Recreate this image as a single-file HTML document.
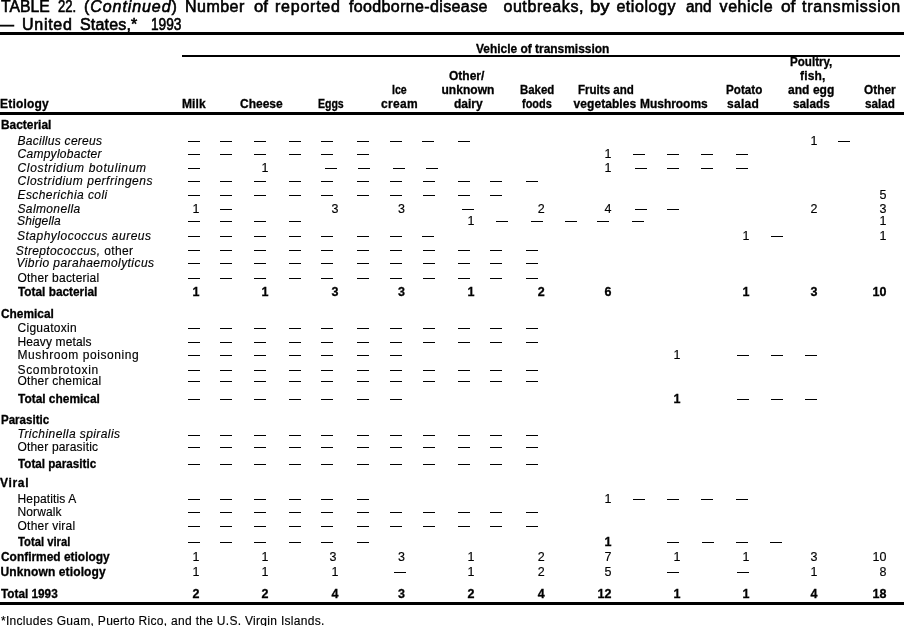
<!DOCTYPE html>
<html><head><meta charset="utf-8"><title>Table 22</title><style>
html,body{margin:0;padding:0;background:#fff;}
#p{will-change:transform;filter:grayscale(1);position:relative;width:904px;height:626px;overflow:hidden;background:#fff;color:#000;font-family:"Liberation Sans",sans-serif;}
#p div{position:absolute;white-space:pre;line-height:16px;transform-origin:0 0;}
#p .d{height:1px;width:12px;background:#000;}
#p .k{background:#000;}
#p .n{width:40px;text-align:right;}
#p .t{font-size:16px;font-weight:normal;font-style:normal;-webkit-text-stroke:0.6px #000;}
#p .ti{font-size:16px;font-weight:normal;font-style:italic;}
#p .h{font-size:12px;font-weight:bold;font-style:normal;-webkit-text-stroke:0.3px #000;}
#p .b{font-size:12px;font-weight:bold;font-style:normal;-webkit-text-stroke:0.3px #000;}
#p .r{font-size:12px;font-weight:normal;font-style:normal;-webkit-text-stroke:0.15px #000;}
#p .i{font-size:12px;font-weight:normal;font-style:italic;-webkit-text-stroke:0.15px #000;}
#p .n{font-size:12.5px;font-weight:normal;font-style:normal;-webkit-text-stroke:0.15px #000;}
#p .nb{font-size:12.5px;font-weight:bold;font-style:normal;-webkit-text-stroke:0.3px #000;}
#p .f{font-size:12px;font-weight:normal;font-style:normal;-webkit-text-stroke:0.15px #000;}
</style></head><body><div id="p">
<div class="k" style="left:0px;top:32px;width:904px;height:3px"></div>
<div class="k" style="left:182px;top:55px;width:718px;height:2px"></div>
<div class="k" style="left:0px;top:112px;width:904px;height:3px"></div>
<div class="k" style="left:0px;top:602px;width:904px;height:3px"></div>
<div class="h" style="left:476.00px;top:41.00px;transform:scaleX(0.9947);">Vehicle of transmission</div>
<div class="h" style="left:0.00px;top:96.00px;letter-spacing:0.192px;">Etiology</div>
<div class="h" style="left:182.00px;top:96.00px;letter-spacing:0.112px;">Milk</div>
<div class="h" style="left:240.00px;top:96.00px;transform:scaleX(0.9996);">Cheese</div>
<div class="h" style="left:318.00px;top:96.00px;transform:scaleX(0.8765);">Eggs</div>
<div class="h" style="left:392.00px;top:82.00px;transform:scaleX(0.8819);">Ice</div>
<div class="h" style="left:381.00px;top:96.00px;letter-spacing:0.327px;">cream</div>
<div class="h" style="left:448.50px;top:68.00px;transform:scaleX(0.9999);">Other/</div>
<div class="h" style="left:441.50px;top:82.00px;letter-spacing:0.029px;">unknown</div>
<div class="h" style="left:454.00px;top:96.00px;transform:scaleX(0.9997);">dairy</div>
<div class="h" style="left:520.00px;top:82.00px;transform:scaleX(0.9527);">Baked</div>
<div class="h" style="left:522.00px;top:96.00px;transform:scaleX(0.9095);">foods</div>
<div class="h" style="left:578.00px;top:82.00px;transform:scaleX(0.9623);">Fruits and</div>
<div class="h" style="left:573.50px;top:96.00px;letter-spacing:0.071px;">vegetables</div>
<div class="h" style="left:640.00px;top:96.00px;transform:scaleX(0.9952);">Mushrooms</div>
<div class="h" style="left:726.00px;top:82.00px;transform:scaleX(0.9730);">Potato</div>
<div class="h" style="left:727.00px;top:96.00px;letter-spacing:0.286px;">salad</div>
<div class="h" style="left:790.00px;top:54.00px;transform:scaleX(0.9667);">Poultry,</div>
<div class="h" style="left:800.00px;top:68.00px;letter-spacing:0.167px;">fish,</div>
<div class="h" style="left:788.00px;top:82.00px;letter-spacing:0.055px;">and egg</div>
<div class="h" style="left:793.00px;top:96.00px;transform:scaleX(0.9818);">salads</div>
<div class="h" style="left:864.00px;top:82.00px;transform:scaleX(0.9897);">Other</div>
<div class="h" style="left:865.00px;top:96.00px;transform:scaleX(0.9718);">salad</div>
<div class="b" style="left:1.00px;top:117.00px;transform:scaleX(0.9928);">Bacterial</div>
<div class="i" style="left:17.50px;top:133.00px;letter-spacing:0.271px;">Bacillus cereus</div>
<div class="i" style="left:17.50px;top:146.00px;letter-spacing:0.275px;">Campylobacter</div>
<div class="i" style="left:17.50px;top:160.00px;letter-spacing:0.656px;">Clostridium botulinum</div>
<div class="i" style="left:17.50px;top:173.00px;letter-spacing:0.528px;">Clostridium perfringens</div>
<div class="i" style="left:17.50px;top:187.00px;letter-spacing:0.420px;">Escherichia coli</div>
<div class="i" style="left:17.50px;top:201.00px;letter-spacing:0.367px;">Salmonella</div>
<div class="i" style="left:17.00px;top:213.00px;letter-spacing:0.140px;">Shigella</div>
<div class="i" style="left:17.00px;top:228.00px;letter-spacing:0.496px;">Staphylococcus aureus</div>
<div class="i" style="left:16.50px;top:255.00px;letter-spacing:0.439px;">Vibrio parahaemolyticus</div>
<div class="r" style="left:17.50px;top:270.00px;letter-spacing:0.212px;">Other bacterial</div>
<div class="b" style="left:18.00px;top:284.00px;transform:scaleX(0.9859);">Total bacterial</div>
<div class="b" style="left:0.50px;top:306.00px;transform:scaleX(0.9902);">Chemical</div>
<div class="r" style="left:17.50px;top:320.00px;letter-spacing:0.275px;">Ciguatoxin</div>
<div class="r" style="left:17.50px;top:334.00px;letter-spacing:0.119px;">Heavy metals</div>
<div class="r" style="left:17.50px;top:347.00px;letter-spacing:0.575px;">Mushroom poisoning</div>
<div class="r" style="left:17.50px;top:362.00px;letter-spacing:0.664px;">Scombrotoxin</div>
<div class="r" style="left:17.50px;top:373.00px;letter-spacing:0.229px;">Other chemical</div>
<div class="b" style="left:18.00px;top:391.00px;transform:scaleX(0.9922);">Total chemical</div>
<div class="b" style="left:1.00px;top:412.00px;transform:scaleX(0.9611);">Parasitic</div>
<div class="i" style="left:17.60px;top:426.00px;letter-spacing:0.417px;">Trichinella spiralis</div>
<div class="r" style="left:17.50px;top:439.00px;letter-spacing:0.176px;">Other parasitic</div>
<div class="b" style="left:18.00px;top:456.00px;transform:scaleX(0.9716);">Total parasitic</div>
<div class="b" style="left:0.00px;top:475.00px;letter-spacing:0.684px;">Viral</div>
<div class="r" style="left:17.50px;top:491.00px;letter-spacing:0.148px;">Hepatitis A</div>
<div class="r" style="left:17.50px;top:504.00px;letter-spacing:0.126px;">Norwalk</div>
<div class="r" style="left:17.50px;top:518.00px;letter-spacing:0.232px;">Other viral</div>
<div class="b" style="left:18.00px;top:534.00px;transform:scaleX(0.9376);">Total viral</div>
<div class="b" style="left:0.50px;top:549.00px;transform:scaleX(0.9940);">Confirmed etiology</div>
<div class="b" style="left:0.50px;top:564.00px;letter-spacing:0.123px;">Unknown etiology</div>
<div class="b" style="left:1.00px;top:586.00px;transform:scaleX(0.9806);">Total 1993</div>
<div class="f" style="left:1.00px;top:613.00px;letter-spacing:0.299px;">*Includes Guam, Puerto Rico, and the U.S. Virgin Islands.</div>
<div class="t" style="left:1.00px;top:-1.00px;transform:scaleX(0.9830);">TABLE</div>
<div class="t" style="left:58.00px;top:-1.00px;transform:scaleX(0.8174);">22.</div>
<div class="t" style="left:84.00px;top:-1.00px;letter-spacing:0.923px;">(<i>Continued</i>)</div>
<div class="t" style="left:185.00px;top:-1.00px;letter-spacing:0.484px;">Number</div>
<div class="t" style="left:254.00px;top:-1.00px;transform:scaleX(1.0433);">of</div>
<div class="t" style="left:275.00px;top:-1.00px;letter-spacing:0.758px;">reported</div>
<div class="t" style="left:349.00px;top:-1.00px;letter-spacing:0.366px;">foodborne-disease</div>
<div class="t" style="left:503.40px;top:-1.00px;letter-spacing:0.593px;">outbreaks,</div>
<div class="t" style="left:590.34px;top:-1.00px;transform:scaleX(1.1636);">by</div>
<div class="t" style="left:616.40px;top:-1.00px;letter-spacing:0.550px;">etiology</div>
<div class="t" style="left:686.00px;top:-1.00px;transform:scaleX(0.9536);">and</div>
<div class="t" style="left:719.60px;top:-1.00px;letter-spacing:0.532px;">vehicle</div>
<div class="t" style="left:781.00px;top:-1.00px;transform:scaleX(1.0793);">of</div>
<div class="t" style="left:802.00px;top:-1.00px;letter-spacing:0.763px;">transmission</div>
<div class="t" style="left:0.00px;top:17.00px;transform:scaleX(0.8750);">—</div>
<div class="t" style="left:22.00px;top:17.00px;letter-spacing:0.730px;">United</div>
<div class="t" style="left:80.00px;top:17.00px;letter-spacing:0.171px;">States,*</div>
<div class="t" style="left:151.44px;top:17.00px;transform:scaleX(0.8560);">1993</div>
<div class="r" style="left:15.80px;top:243.00px;letter-spacing:0.376px;"><i>Streptococcus,</i> other</div>
<div class="n n" style="left:777.4px;top:133.00px">1</div>
<div class="n n" style="left:571.4px;top:146.00px">1</div>
<div class="n n" style="left:228.4px;top:160.00px">1</div>
<div class="n n" style="left:571.4px;top:160.00px">1</div>
<div class="n n" style="left:846.5px;top:187.00px">5</div>
<div class="n n" style="left:159.4px;top:201.00px">1</div>
<div class="n n" style="left:298.4px;top:201.00px">3</div>
<div class="n n" style="left:365.0px;top:201.00px">3</div>
<div class="n n" style="left:504.7px;top:201.00px">2</div>
<div class="n n" style="left:571.4px;top:201.00px">4</div>
<div class="n n" style="left:777.4px;top:201.00px">2</div>
<div class="n n" style="left:846.5px;top:201.00px">3</div>
<div class="n n" style="left:434.4px;top:213.00px">1</div>
<div class="n n" style="left:846.5px;top:213.00px">1</div>
<div class="n n" style="left:709.4px;top:228.00px">1</div>
<div class="n n" style="left:846.5px;top:228.00px">1</div>
<div class="n nb" style="left:159.4px;top:284.00px">1</div>
<div class="n nb" style="left:228.4px;top:284.00px">1</div>
<div class="n nb" style="left:298.4px;top:284.00px">3</div>
<div class="n nb" style="left:365.0px;top:284.00px">3</div>
<div class="n nb" style="left:434.4px;top:284.00px">1</div>
<div class="n nb" style="left:504.7px;top:284.00px">2</div>
<div class="n nb" style="left:571.4px;top:284.00px">6</div>
<div class="n nb" style="left:709.4px;top:284.00px">1</div>
<div class="n nb" style="left:777.4px;top:284.00px">3</div>
<div class="n nb" style="left:846.5px;top:284.00px">10</div>
<div class="n n" style="left:640.4px;top:347.00px">1</div>
<div class="n nb" style="left:640.4px;top:391.00px">1</div>
<div class="n n" style="left:571.4px;top:491.00px">1</div>
<div class="n nb" style="left:571.4px;top:534.00px">1</div>
<div class="n n" style="left:159.4px;top:549.00px">1</div>
<div class="n n" style="left:228.4px;top:549.00px">1</div>
<div class="n n" style="left:296.4px;top:549.00px">3</div>
<div class="n n" style="left:365.0px;top:549.00px">3</div>
<div class="n n" style="left:434.4px;top:549.00px">1</div>
<div class="n n" style="left:504.7px;top:549.00px">2</div>
<div class="n n" style="left:571.4px;top:549.00px">7</div>
<div class="n n" style="left:640.4px;top:549.00px">1</div>
<div class="n n" style="left:709.4px;top:549.00px">1</div>
<div class="n n" style="left:777.4px;top:549.00px">3</div>
<div class="n n" style="left:846.5px;top:549.00px">10</div>
<div class="n n" style="left:159.4px;top:564.00px">1</div>
<div class="n n" style="left:228.4px;top:564.00px">1</div>
<div class="n n" style="left:298.4px;top:564.00px">1</div>
<div class="n n" style="left:434.4px;top:564.00px">1</div>
<div class="n n" style="left:504.7px;top:564.00px">2</div>
<div class="n n" style="left:571.4px;top:564.00px">5</div>
<div class="n n" style="left:777.4px;top:564.00px">1</div>
<div class="n n" style="left:846.5px;top:564.00px">8</div>
<div class="n nb" style="left:159.4px;top:586.00px">2</div>
<div class="n nb" style="left:228.4px;top:586.00px">2</div>
<div class="n nb" style="left:298.4px;top:586.00px">4</div>
<div class="n nb" style="left:365.0px;top:586.00px">3</div>
<div class="n nb" style="left:434.4px;top:586.00px">2</div>
<div class="n nb" style="left:504.7px;top:586.00px">4</div>
<div class="n nb" style="left:571.4px;top:586.00px">12</div>
<div class="n nb" style="left:640.4px;top:586.00px">1</div>
<div class="n nb" style="left:709.4px;top:586.00px">1</div>
<div class="n nb" style="left:777.4px;top:586.00px">4</div>
<div class="n nb" style="left:846.5px;top:586.00px">18</div>
<div class="d" style="left:188px;top:141px"></div>
<div class="d" style="left:220px;top:141px"></div>
<div class="d" style="left:254px;top:141px"></div>
<div class="d" style="left:289px;top:141px"></div>
<div class="d" style="left:321px;top:141px"></div>
<div class="d" style="left:357px;top:141px"></div>
<div class="d" style="left:390px;top:141px"></div>
<div class="d" style="left:422px;top:141px"></div>
<div class="d" style="left:458px;top:141px"></div>
<div class="d" style="left:838px;top:141px"></div>
<div class="d" style="left:188px;top:154px"></div>
<div class="d" style="left:220px;top:154px"></div>
<div class="d" style="left:254px;top:154px"></div>
<div class="d" style="left:289px;top:154px"></div>
<div class="d" style="left:321px;top:154px"></div>
<div class="d" style="left:357px;top:154px"></div>
<div class="d" style="left:633px;top:154px"></div>
<div class="d" style="left:667px;top:154px"></div>
<div class="d" style="left:701px;top:154px"></div>
<div class="d" style="left:736px;top:154px"></div>
<div class="d" style="left:188px;top:168px"></div>
<div class="d" style="left:325px;top:168px"></div>
<div class="d" style="left:358px;top:168px"></div>
<div class="d" style="left:393px;top:168px"></div>
<div class="d" style="left:426px;top:168px"></div>
<div class="d" style="left:635px;top:168px"></div>
<div class="d" style="left:667px;top:168px"></div>
<div class="d" style="left:701px;top:168px"></div>
<div class="d" style="left:736px;top:168px"></div>
<div class="d" style="left:188px;top:181px"></div>
<div class="d" style="left:220px;top:181px"></div>
<div class="d" style="left:254px;top:181px"></div>
<div class="d" style="left:289px;top:181px"></div>
<div class="d" style="left:321px;top:181px"></div>
<div class="d" style="left:357px;top:181px"></div>
<div class="d" style="left:390px;top:181px"></div>
<div class="d" style="left:423px;top:181px"></div>
<div class="d" style="left:458px;top:181px"></div>
<div class="d" style="left:490px;top:181px"></div>
<div class="d" style="left:526px;top:181px"></div>
<div class="d" style="left:188px;top:195px"></div>
<div class="d" style="left:220px;top:195px"></div>
<div class="d" style="left:254px;top:195px"></div>
<div class="d" style="left:289px;top:195px"></div>
<div class="d" style="left:321px;top:195px"></div>
<div class="d" style="left:357px;top:195px"></div>
<div class="d" style="left:390px;top:195px"></div>
<div class="d" style="left:423px;top:195px"></div>
<div class="d" style="left:458px;top:195px"></div>
<div class="d" style="left:490px;top:195px"></div>
<div class="d" style="left:220px;top:209px"></div>
<div class="d" style="left:462px;top:209px"></div>
<div class="d" style="left:635px;top:209px"></div>
<div class="d" style="left:667px;top:209px"></div>
<div class="d" style="left:188px;top:221px"></div>
<div class="d" style="left:220px;top:221px"></div>
<div class="d" style="left:254px;top:221px"></div>
<div class="d" style="left:289px;top:221px"></div>
<div class="d" style="left:496px;top:221px"></div>
<div class="d" style="left:531px;top:221px"></div>
<div class="d" style="left:565px;top:221px"></div>
<div class="d" style="left:597px;top:221px"></div>
<div class="d" style="left:632px;top:221px"></div>
<div class="d" style="left:188px;top:236px"></div>
<div class="d" style="left:220px;top:236px"></div>
<div class="d" style="left:254px;top:236px"></div>
<div class="d" style="left:289px;top:236px"></div>
<div class="d" style="left:321px;top:236px"></div>
<div class="d" style="left:357px;top:236px"></div>
<div class="d" style="left:390px;top:236px"></div>
<div class="d" style="left:422px;top:236px"></div>
<div class="d" style="left:771px;top:236px"></div>
<div class="d" style="left:188px;top:250px"></div>
<div class="d" style="left:220px;top:250px"></div>
<div class="d" style="left:254px;top:250px"></div>
<div class="d" style="left:289px;top:250px"></div>
<div class="d" style="left:321px;top:250px"></div>
<div class="d" style="left:357px;top:250px"></div>
<div class="d" style="left:390px;top:250px"></div>
<div class="d" style="left:423px;top:250px"></div>
<div class="d" style="left:458px;top:250px"></div>
<div class="d" style="left:490px;top:250px"></div>
<div class="d" style="left:526px;top:250px"></div>
<div class="d" style="left:188px;top:263px"></div>
<div class="d" style="left:220px;top:263px"></div>
<div class="d" style="left:254px;top:263px"></div>
<div class="d" style="left:289px;top:263px"></div>
<div class="d" style="left:321px;top:263px"></div>
<div class="d" style="left:357px;top:263px"></div>
<div class="d" style="left:390px;top:263px"></div>
<div class="d" style="left:423px;top:263px"></div>
<div class="d" style="left:458px;top:263px"></div>
<div class="d" style="left:490px;top:263px"></div>
<div class="d" style="left:526px;top:263px"></div>
<div class="d" style="left:188px;top:278px"></div>
<div class="d" style="left:220px;top:278px"></div>
<div class="d" style="left:254px;top:278px"></div>
<div class="d" style="left:289px;top:278px"></div>
<div class="d" style="left:321px;top:278px"></div>
<div class="d" style="left:357px;top:278px"></div>
<div class="d" style="left:390px;top:278px"></div>
<div class="d" style="left:423px;top:278px"></div>
<div class="d" style="left:458px;top:278px"></div>
<div class="d" style="left:490px;top:278px"></div>
<div class="d" style="left:526px;top:278px"></div>
<div class="d" style="left:188px;top:328px"></div>
<div class="d" style="left:220px;top:328px"></div>
<div class="d" style="left:254px;top:328px"></div>
<div class="d" style="left:289px;top:328px"></div>
<div class="d" style="left:321px;top:328px"></div>
<div class="d" style="left:357px;top:328px"></div>
<div class="d" style="left:390px;top:328px"></div>
<div class="d" style="left:423px;top:328px"></div>
<div class="d" style="left:458px;top:328px"></div>
<div class="d" style="left:490px;top:328px"></div>
<div class="d" style="left:526px;top:328px"></div>
<div class="d" style="left:188px;top:342px"></div>
<div class="d" style="left:220px;top:342px"></div>
<div class="d" style="left:254px;top:342px"></div>
<div class="d" style="left:289px;top:342px"></div>
<div class="d" style="left:321px;top:342px"></div>
<div class="d" style="left:357px;top:342px"></div>
<div class="d" style="left:390px;top:342px"></div>
<div class="d" style="left:423px;top:342px"></div>
<div class="d" style="left:458px;top:342px"></div>
<div class="d" style="left:490px;top:342px"></div>
<div class="d" style="left:526px;top:342px"></div>
<div class="d" style="left:188px;top:355px"></div>
<div class="d" style="left:220px;top:355px"></div>
<div class="d" style="left:254px;top:355px"></div>
<div class="d" style="left:289px;top:355px"></div>
<div class="d" style="left:321px;top:355px"></div>
<div class="d" style="left:357px;top:355px"></div>
<div class="d" style="left:390px;top:355px"></div>
<div class="d" style="left:737px;top:355px"></div>
<div class="d" style="left:771px;top:355px"></div>
<div class="d" style="left:805px;top:355px"></div>
<div class="d" style="left:188px;top:370px"></div>
<div class="d" style="left:220px;top:370px"></div>
<div class="d" style="left:254px;top:370px"></div>
<div class="d" style="left:289px;top:370px"></div>
<div class="d" style="left:321px;top:370px"></div>
<div class="d" style="left:357px;top:370px"></div>
<div class="d" style="left:390px;top:370px"></div>
<div class="d" style="left:423px;top:370px"></div>
<div class="d" style="left:458px;top:370px"></div>
<div class="d" style="left:490px;top:370px"></div>
<div class="d" style="left:526px;top:370px"></div>
<div class="d" style="left:188px;top:381px"></div>
<div class="d" style="left:220px;top:381px"></div>
<div class="d" style="left:254px;top:381px"></div>
<div class="d" style="left:289px;top:381px"></div>
<div class="d" style="left:321px;top:381px"></div>
<div class="d" style="left:357px;top:381px"></div>
<div class="d" style="left:390px;top:381px"></div>
<div class="d" style="left:423px;top:381px"></div>
<div class="d" style="left:458px;top:381px"></div>
<div class="d" style="left:490px;top:381px"></div>
<div class="d" style="left:526px;top:381px"></div>
<div class="d" style="left:188px;top:399px"></div>
<div class="d" style="left:220px;top:399px"></div>
<div class="d" style="left:254px;top:399px"></div>
<div class="d" style="left:289px;top:399px"></div>
<div class="d" style="left:321px;top:399px"></div>
<div class="d" style="left:357px;top:399px"></div>
<div class="d" style="left:390px;top:399px"></div>
<div class="d" style="left:737px;top:399px"></div>
<div class="d" style="left:771px;top:399px"></div>
<div class="d" style="left:805px;top:399px"></div>
<div class="d" style="left:188px;top:435px"></div>
<div class="d" style="left:220px;top:435px"></div>
<div class="d" style="left:254px;top:435px"></div>
<div class="d" style="left:289px;top:435px"></div>
<div class="d" style="left:321px;top:435px"></div>
<div class="d" style="left:357px;top:435px"></div>
<div class="d" style="left:390px;top:435px"></div>
<div class="d" style="left:423px;top:435px"></div>
<div class="d" style="left:458px;top:435px"></div>
<div class="d" style="left:490px;top:435px"></div>
<div class="d" style="left:526px;top:435px"></div>
<div class="d" style="left:188px;top:447px"></div>
<div class="d" style="left:220px;top:447px"></div>
<div class="d" style="left:254px;top:447px"></div>
<div class="d" style="left:289px;top:447px"></div>
<div class="d" style="left:321px;top:447px"></div>
<div class="d" style="left:357px;top:447px"></div>
<div class="d" style="left:390px;top:447px"></div>
<div class="d" style="left:423px;top:447px"></div>
<div class="d" style="left:458px;top:447px"></div>
<div class="d" style="left:490px;top:447px"></div>
<div class="d" style="left:526px;top:447px"></div>
<div class="d" style="left:188px;top:464px"></div>
<div class="d" style="left:220px;top:464px"></div>
<div class="d" style="left:254px;top:464px"></div>
<div class="d" style="left:289px;top:464px"></div>
<div class="d" style="left:321px;top:464px"></div>
<div class="d" style="left:357px;top:464px"></div>
<div class="d" style="left:390px;top:464px"></div>
<div class="d" style="left:423px;top:464px"></div>
<div class="d" style="left:458px;top:464px"></div>
<div class="d" style="left:490px;top:464px"></div>
<div class="d" style="left:526px;top:464px"></div>
<div class="d" style="left:188px;top:499px"></div>
<div class="d" style="left:220px;top:499px"></div>
<div class="d" style="left:254px;top:499px"></div>
<div class="d" style="left:289px;top:499px"></div>
<div class="d" style="left:321px;top:499px"></div>
<div class="d" style="left:357px;top:499px"></div>
<div class="d" style="left:633px;top:499px"></div>
<div class="d" style="left:667px;top:499px"></div>
<div class="d" style="left:701px;top:499px"></div>
<div class="d" style="left:736px;top:499px"></div>
<div class="d" style="left:188px;top:512px"></div>
<div class="d" style="left:220px;top:512px"></div>
<div class="d" style="left:254px;top:512px"></div>
<div class="d" style="left:289px;top:512px"></div>
<div class="d" style="left:321px;top:512px"></div>
<div class="d" style="left:357px;top:512px"></div>
<div class="d" style="left:390px;top:512px"></div>
<div class="d" style="left:423px;top:512px"></div>
<div class="d" style="left:458px;top:512px"></div>
<div class="d" style="left:490px;top:512px"></div>
<div class="d" style="left:526px;top:512px"></div>
<div class="d" style="left:188px;top:526px"></div>
<div class="d" style="left:220px;top:526px"></div>
<div class="d" style="left:254px;top:526px"></div>
<div class="d" style="left:289px;top:526px"></div>
<div class="d" style="left:321px;top:526px"></div>
<div class="d" style="left:357px;top:526px"></div>
<div class="d" style="left:390px;top:526px"></div>
<div class="d" style="left:423px;top:526px"></div>
<div class="d" style="left:458px;top:526px"></div>
<div class="d" style="left:490px;top:526px"></div>
<div class="d" style="left:526px;top:526px"></div>
<div class="d" style="left:188px;top:542px"></div>
<div class="d" style="left:220px;top:542px"></div>
<div class="d" style="left:254px;top:542px"></div>
<div class="d" style="left:289px;top:542px"></div>
<div class="d" style="left:321px;top:542px"></div>
<div class="d" style="left:357px;top:542px"></div>
<div class="d" style="left:667px;top:542px"></div>
<div class="d" style="left:702px;top:542px"></div>
<div class="d" style="left:736px;top:542px"></div>
<div class="d" style="left:770px;top:542px"></div>
<div class="d" style="left:394px;top:572px"></div>
<div class="d" style="left:667px;top:572px"></div>
<div class="d" style="left:737px;top:572px"></div>
</div></body></html>
